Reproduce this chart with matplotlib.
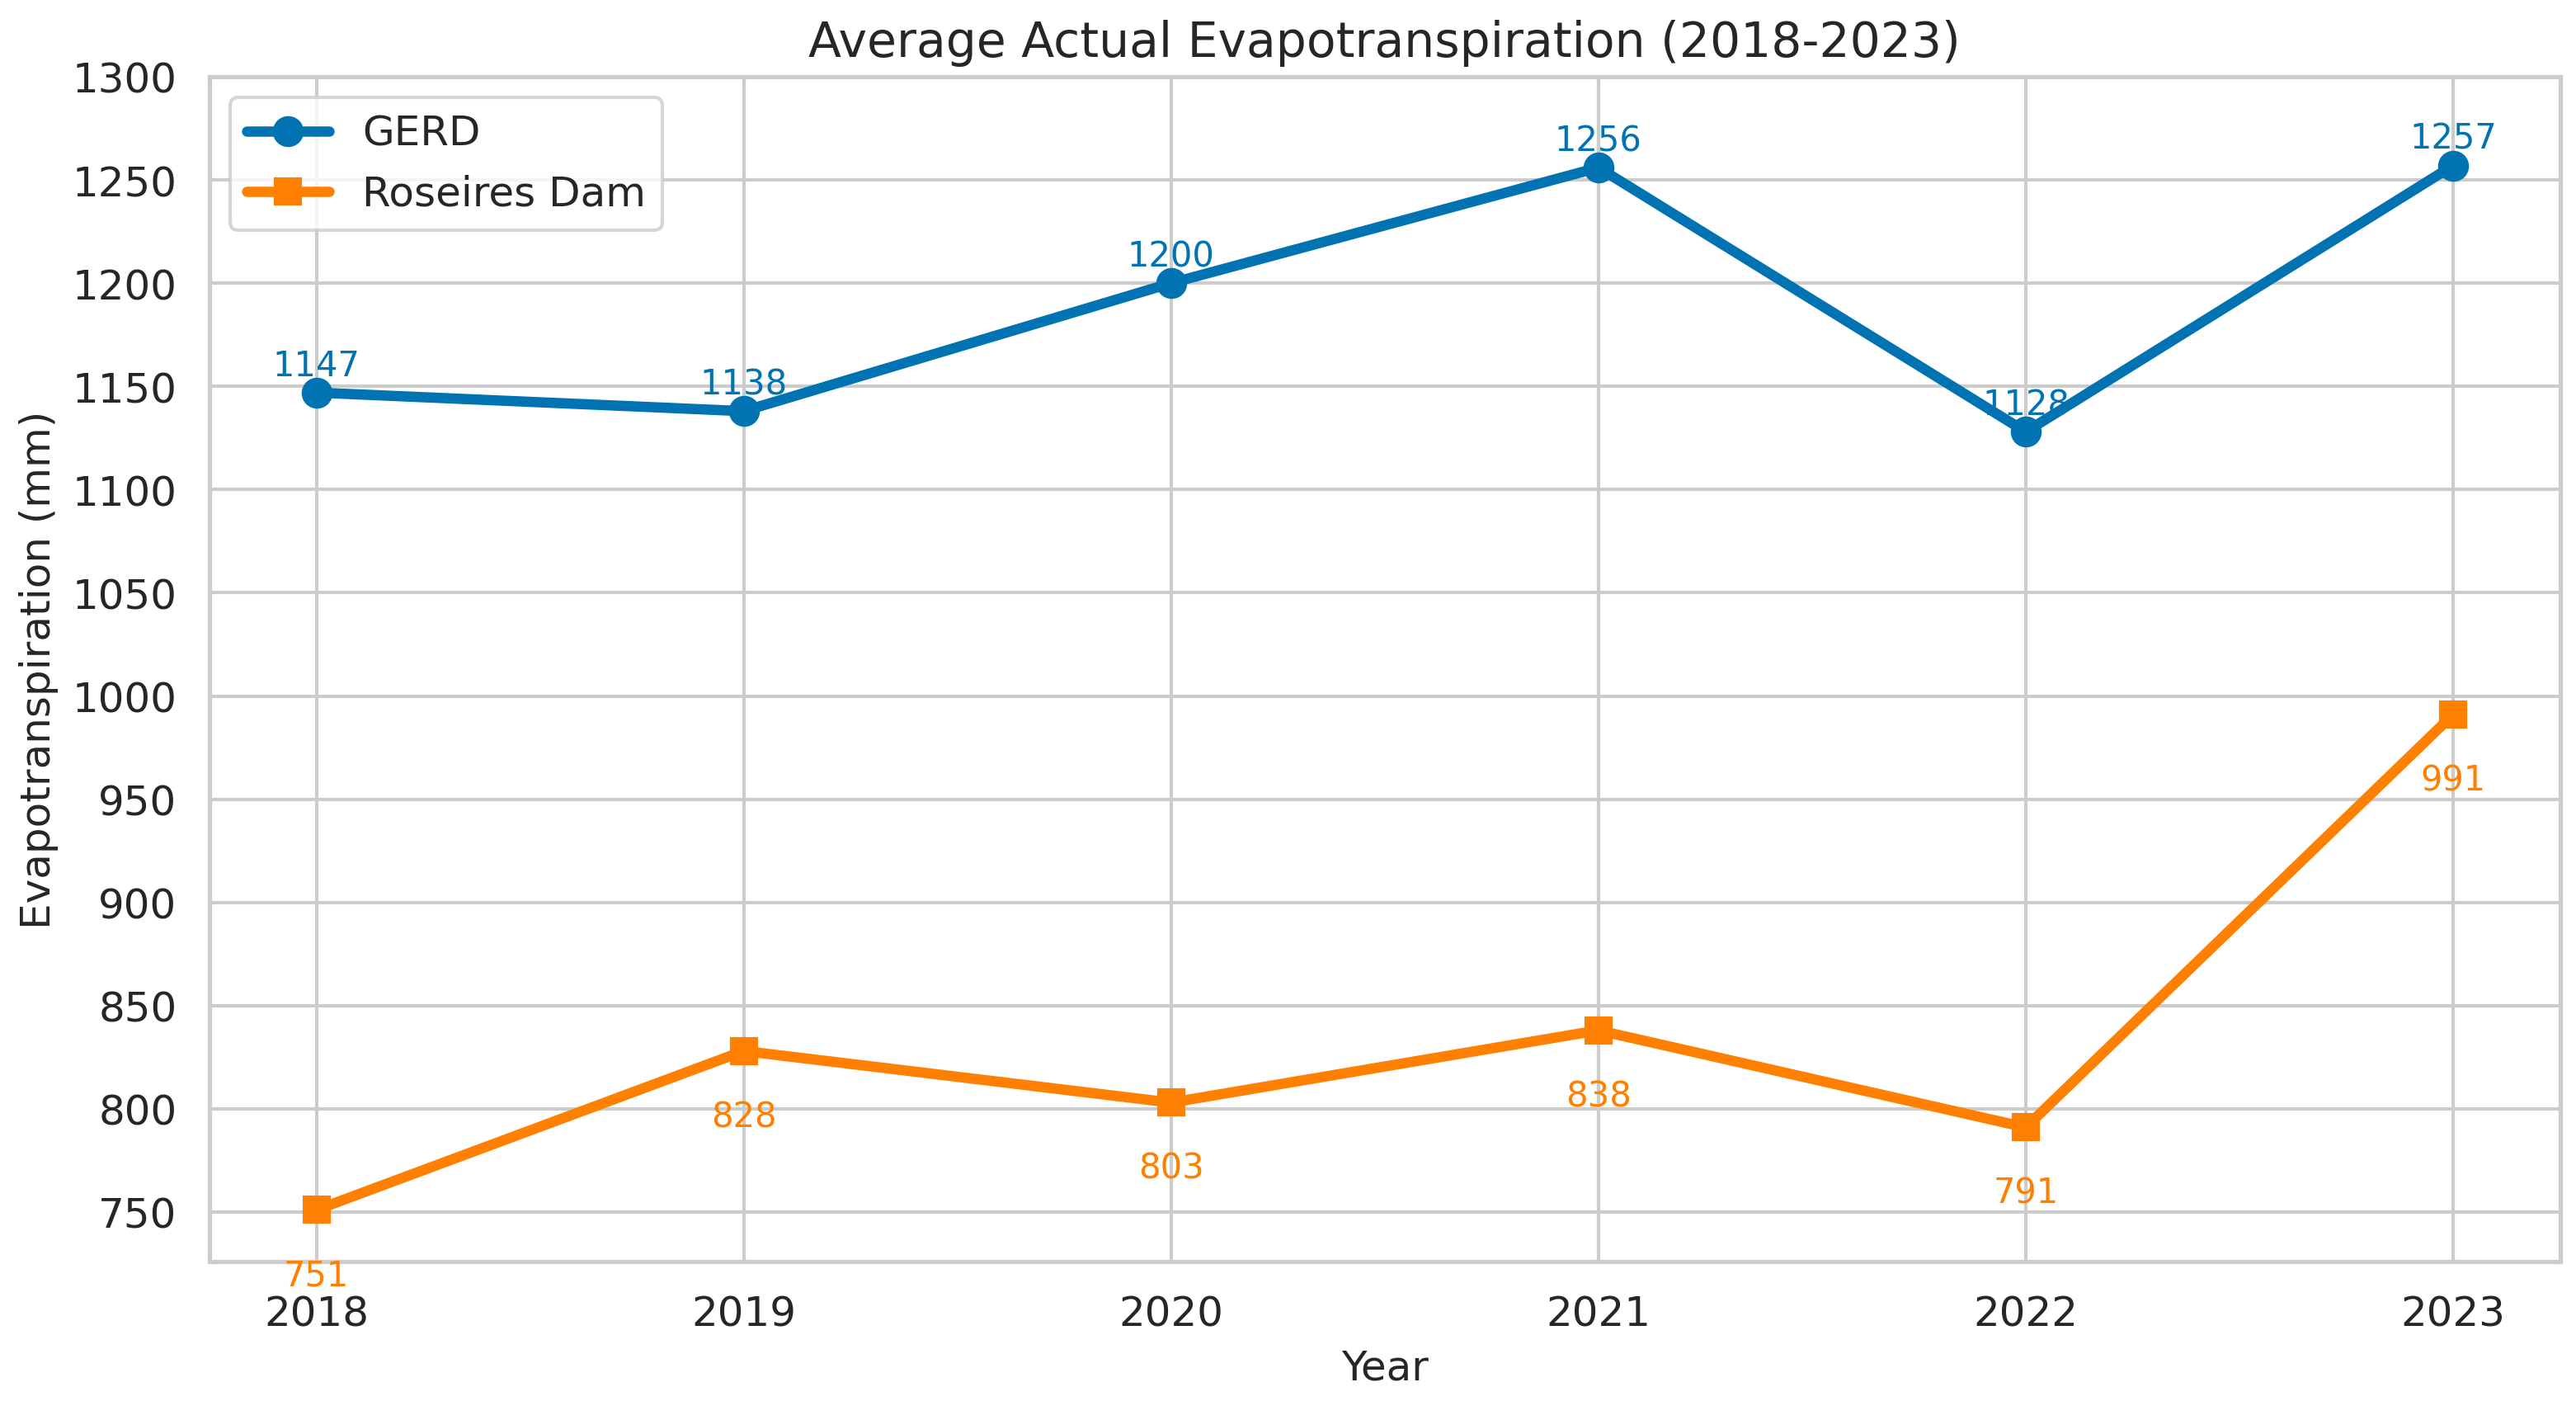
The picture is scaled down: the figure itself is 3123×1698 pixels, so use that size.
import matplotlib
matplotlib.use("Agg")
import matplotlib.pyplot as plt
from matplotlib.ticker import MultipleLocator
import seaborn as sns

# --- DATA ---
years = [2018, 2019, 2020, 2021, 2022, 2023]
gerd = [1147, 1138, 1200, 1256, 1128, 1257]
roseires = [751, 828, 803, 838, 791, 991]

BLUE = "#0173b2"
ORANGE = "#ff8000"

sns.set_theme(style="whitegrid")
plt.rcParams['font.family'] = ['DejaVu Sans']

fig, ax = plt.subplots(figsize=(10.413, 5.663), dpi=300)

ax.plot(years, gerd, color=BLUE, marker='o', linewidth=3, markersize=8, label='GERD')
ax.plot(years, roseires, color=ORANGE, marker='s', linewidth=3, markersize=7, label='Roseires Dam')

# value labels
for x, y in zip(years, gerd):
    ax.annotate(f"{y}", (x, y), textcoords='offset points', xytext=(0, 5),
                ha='center', fontsize=10, color=BLUE)
for x, y in zip(years, roseires):
    ax.annotate(f"{y}", (x, y), textcoords='offset points', xytext=(0, -22),
                ha='center', fontsize=10, color=ORANGE)

ax.set_ylim(726, 1300)
ax.yaxis.set_major_locator(MultipleLocator(50))
ax.set_xticks(years)
ax.tick_params(labelsize=12)
ax.set_title('Average Actual Evapotranspiration (2018-2023)', fontsize=14)
ax.set_xlabel('Year', fontsize=12)
ax.set_ylabel('Evapotranspiration (mm)', fontsize=12)
ax.legend(loc='upper left', fontsize=12)

plt.subplots_adjust(left=0.0813, right=0.9935, top=0.9447, bottom=0.0995)
plt.savefig('out.png', dpi=300)
